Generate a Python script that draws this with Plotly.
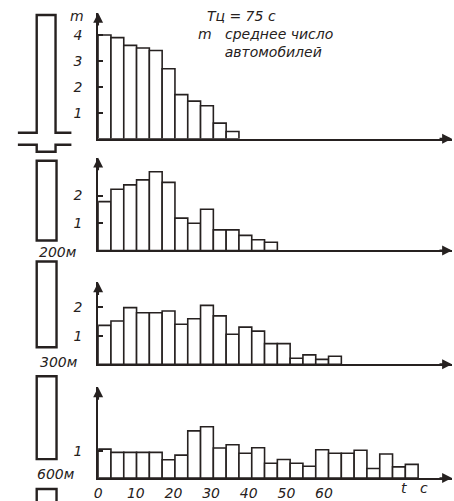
import plotly.graph_objects as go

W, H = 454, 501
INK = "#262120"
FONT = "DejaVu Sans"

# ---- data (mean number of cars per time bin) ----
bin_width = 3.4  # seconds per bar
m_stopline = [4.0, 3.9, 3.6, 3.5, 3.4, 2.7, 1.7, 1.45, 1.27, 0.6, 0.28]
m_200 = [1.78, 2.23, 2.39, 2.57, 2.87, 2.48, 1.18, 0.99, 1.5, 0.75, 0.75, 0.55, 0.39, 0.30]
m_300 = [1.36, 1.51, 1.98, 1.80, 1.80, 1.86, 1.40, 1.59, 2.06, 1.69, 1.05, 1.30, 1.16,
         0.72, 0.72, 0.21, 0.33, 0.17, 0.28]
m_600 = [1.06, 0.94, 0.94, 0.94, 0.94, 0.67, 0.84, 1.73, 1.88, 1.10, 1.22, 0.91, 1.11,
         0.54, 0.68, 0.54, 0.43, 1.04, 0.91, 0.91, 1.02, 0.35, 0.88, 0.41, 0.50]
series = [m_stopline, m_200, m_300, m_600]
distance_labels = ["", "200м", "300м", "600м"]
y_ticks = [[1, 2, 3, 4], [1, 2], [1, 2], [1]]
x_tick_vals = [0, 10, 20, 30, 40, 50, 60]
x_tick_text = ["0", "10", "20", "30", "40", "50", "60"]

# ---- layout geometry (pixels) ----
x_left, x_right = 95, 452
panels = [  # (top px, baseline px, y max)
    (13, 139, 4.85),
    (158, 251, 3.38),
    (283, 365, 2.86),
    (388, 479, 3.33),
]
x_max = 94


def px(x):
    return x / W


def py(y):
    return 1 - y / H


fig = go.Figure()
layout = dict(
    width=W, height=H, margin=dict(l=0, r=0, t=0, b=0),
    paper_bgcolor="white", plot_bgcolor="white", showlegend=False,
    font=dict(family=FONT, color=INK),
)
annotations = []
shapes = []
tickfont = dict(family=FONT, size=14, style="italic", color=INK)

for i, (vals, (top, base, ymax)) in enumerate(zip(series, panels)):
    k = "" if i == 0 else str(i + 1)
    xa, ya = "x" + k, "y" + k
    xs = [(j + 0.5) * bin_width for j in range(len(vals))]
    fig.add_trace(go.Bar(
        x=xs, y=vals, width=bin_width, xaxis=xa, yaxis=ya,
        marker=dict(color="white", line=dict(color=INK, width=1.6)),
        hoverinfo="skip",
    ))
    last = i == len(series) - 1
    layout["xaxis" + k] = dict(
        domain=[px(x_left), px(x_right)], range=[0, x_max], anchor=ya,
        showline=True, linecolor=INK, linewidth=2, showgrid=False, zeroline=False,
        ticks="", showticklabels=last,
        tickvals=x_tick_vals if last else None,
        ticktext=x_tick_text if last else None,
        tickfont=tickfont, ticklabelstandoff=1,
    )
    layout["yaxis" + k] = dict(
        domain=[py(base), py(top)], range=[0, ymax], anchor=xa,
        showline=True, linecolor=INK, linewidth=2, showgrid=False, zeroline=False,
        ticks="inside", ticklen=5, tickcolor=INK, tickwidth=1.5,
        tickvals=y_ticks[i], tickfont=tickfont, ticklabelstandoff=11,
    )
    # arrowheads
    annotations.append(dict(
        x=1, y=0, xref=xa + " domain", yref=ya + " domain", text="",
        showarrow=True, arrowhead=2, arrowsize=1.1, arrowwidth=1.8,
        arrowcolor=INK, ax=-14, ay=0,
    ))
    annotations.append(dict(
        x=0, y=1, xref=xa + " domain", yref=ya + " domain", text="",
        showarrow=True, arrowhead=2, arrowsize=1.1, arrowwidth=1.8,
        arrowcolor=INK, ax=0, ay=14,
    ))

# ---- texts ----
ital = dict(family=FONT, size=14, style="italic", color=INK)
small = dict(family=FONT, size=14, style="italic", color=INK)
NB = "\u00a0"
legend_text = "<br>".join([
    NB * 2 + "Tц = 75 с",
    "m" + NB * 3 + "среднее число",
    NB * 6 + "автомобилей",
])
annotations += [
    dict(x=px(195), y=py(7), xref="paper", yref="paper", text=legend_text,
         showarrow=False, xanchor="left", yanchor="top", align="left",
         font=ital, borderpad=0),
    dict(x=px(74), y=py(16), xref="paper", yref="paper", text="m",
         showarrow=False, xanchor="center", yanchor="middle", font=small),
    dict(x=px(404), y=py(489), xref="paper", yref="paper", text="t",
         showarrow=False, xanchor="center", yanchor="middle", font=small),
    dict(x=px(424), y=py(489), xref="paper", yref="paper", text="с",
         showarrow=False, xanchor="center", yanchor="middle", font=small),
]
label_pos = [None, (54, 253), (55, 363), (52, 475)]
for lab, pos in zip(distance_labels, label_pos):
    if pos:
        annotations.append(dict(
            x=px(pos[0]), y=py(pos[1]), xref="paper", yref="paper", text=lab,
            showarrow=False, xanchor="center", yanchor="middle", font=small))

# ---- road sketch on the left ----
line = dict(color=INK, width=2.4)


def path(points, closed=False):
    d = "M " + " L ".join(f"{px(x)},{py(y)}" for x, y in points)
    if closed:
        d += " Z"
    return dict(type="path", xref="paper", yref="paper", path=d, line=line)


shapes.append(path([(14, 133), (33, 133), (33, 15), (52, 15), (52, 133), (68, 133)]))
shapes.append(path([(14, 145), (33, 145), (33, 152), (52, 152), (52, 145), (68, 145)]))
for top, bot in [(161, 241), (262, 348), (377, 460), (490, 505)]:
    shapes.append(path([(33, bot), (33, top), (53, top), (53, bot)], closed=(bot < 500)))

layout["annotations"] = annotations
layout["shapes"] = shapes
fig.update_layout(**layout)
fig.write_html(
    "out.html",
    config={"displayModeBar": False},
    post_script="document.body.style.margin='0';document.body.style.overflow='hidden';",
)
